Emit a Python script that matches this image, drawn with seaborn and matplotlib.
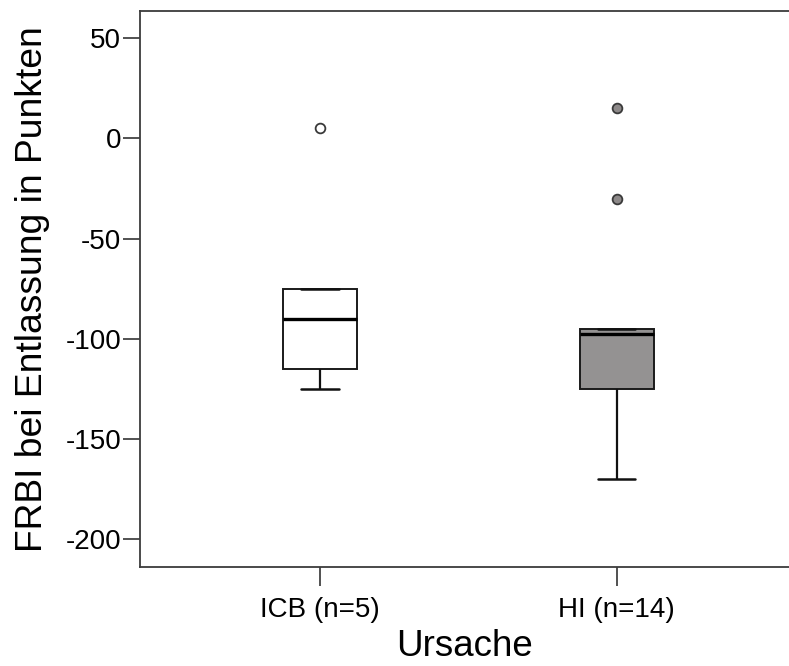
import matplotlib
matplotlib.use("Agg")
import matplotlib.pyplot as plt
import seaborn as sns
import pandas as pd

# FRBI score at discharge, by cause
categories = ["ICB (n=5)", "HI (n=14)"]
icb_values = [-125, -115, -90, -75, 5]
hi_values = [-170, -150, -130, -125, -125, -110, -100, -95, -95, -95, -95, -95, -30, 15]
y_ticks = [50, 0, -50, -100, -150, -200]

box_fill = ["#ffffff", "#959191"]
flier_fill = ["#ffffff", "#8d8989"]

df = pd.DataFrame({
    "Ursache": [categories[0]] * len(icb_values) + [categories[1]] * len(hi_values),
    "FRBI": icb_values + hi_values,
})

sns.set_style("white")
plt.rcParams["font.family"] = ["Liberation Sans", "DejaVu Sans"]
plt.rcParams["text.color"] = "#000000"
plt.rcParams["axes.labelcolor"] = "#000000"
plt.rcParams["xtick.color"] = "#000000"
plt.rcParams["ytick.color"] = "#000000"

fig = plt.figure(figsize=(7.89, 6.66), dpi=100)
ax = fig.add_axes([0.1774, 0.149, 0.8226, 0.8345])

sns.boxplot(
    data=df, x="Ursache", y="FRBI", hue="Ursache", order=categories,
    hue_order=categories, palette=box_fill, legend=False, width=0.25,
    whis=1.5, linecolor="#1a1a1a", linewidth=1.4, ax=ax,
    medianprops={"linewidth": 2.4, "color": "#000000"},
    whiskerprops={"linewidth": 1.6, "color": "#111111"},
    capprops={"linewidth": 1.8, "color": "#111111"},
    flierprops={"marker": "o", "markersize": 7, "markeredgecolor": "#3a3a3a",
                "markeredgewidth": 1.3},
)

# per-group outlier fill
for cont, fc in zip(ax.containers, flier_fill):
    for fl in cont.fliers:
        fl.set_markerfacecolor(fc)

ax.set_xlim(-0.607, 1.581)
ax.set_ylim(-213.8, 63.6)
ax.set_yticks(y_ticks)
ax.set_yticklabels([str(t) for t in y_ticks])

ax.set_xlabel("Ursache", fontsize=26.5, labelpad=4, color="#000000")
ax.set_ylabel("FRBI bei Entlassung in Punkten", fontsize=26.8, labelpad=11,
              color="#000000")

ax.tick_params(axis="y", which="both", direction="out", length=12, width=1.2,
               color="#333333", pad=1.5, labelsize=20, left=True,
               labelcolor="#000000")
ax.tick_params(axis="x", which="both", direction="out", length=14, width=1.2,
               color="#333333", pad=8, labelsize=20, bottom=True,
               labelcolor="#000000")

for side in ["left", "bottom", "top"]:
    ax.spines[side].set_visible(True)
    ax.spines[side].set_color("#3c3c3c")
    ax.spines[side].set_linewidth(1.3)
ax.spines["right"].set_visible(False)

fig.savefig("out.png", dpi=100)
